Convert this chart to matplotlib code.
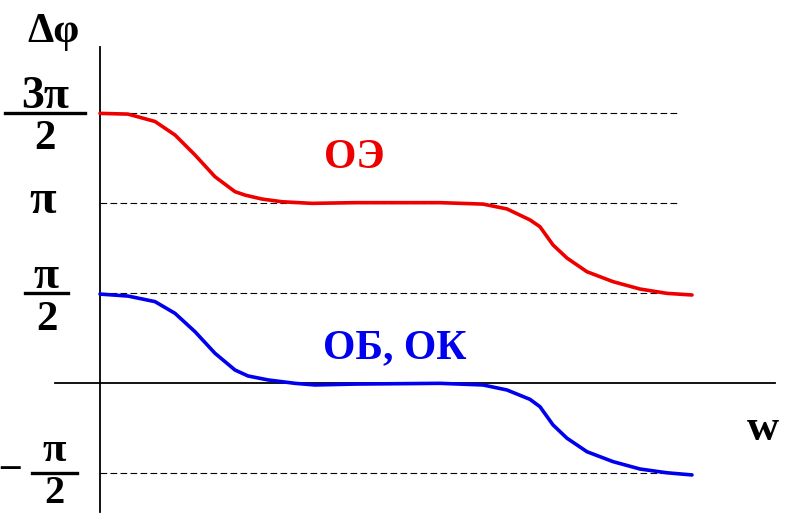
import numpy as np
import matplotlib
matplotlib.use("Agg")
import matplotlib.pyplot as plt

# frequency axis (arbitrary units) and phase values in multiples of pi
w_red = [0, 28, 55, 75, 95, 115, 135, 145, 162, 182, 212, 255, 340, 383, 407, 430, 440, 453, 467, 487, 513, 540, 567, 592]
phi_red = [1.498, 1.494, 1.453, 1.378, 1.267, 1.146, 1.063, 1.044, 1.022, 1.007, 0.998, 1.002, 1.002, 0.994,
           0.967, 0.906, 0.868, 0.767, 0.694, 0.618, 0.563, 0.522, 0.498, 0.489]
w_blue = [0, 28, 55, 75, 95, 115, 135, 148, 168, 195, 215, 255, 340, 383, 407, 430, 440, 453, 467, 487, 513, 540, 567, 592]
phi_blue = [0.494, 0.483, 0.452, 0.387, 0.285, 0.165, 0.072, 0.039, 0.017, -0.002, -0.011, -0.006, -0.002, -0.011,
            -0.039, -0.091, -0.132, -0.233, -0.307, -0.382, -0.437, -0.478, -0.499, -0.511]
ref_levels = [1.5, 1.0, 0.5, -0.5]
label_red = "ОЭ"
label_blue = "ОБ, ОК"
xlabel = "w"
ylabel = "Δφ"

PI = np.pi
fig = plt.figure(figsize=(7.92, 5.14), dpi=100)
ax = fig.add_axes([0, 0, 1, 1])
ax.set_xlim(-100, 692)
ax.set_ylim(-1.456 * PI / 2, 4.256 * PI / 2)
ax.axis("off")

font = dict(family="Liberation Serif", weight="bold")

# axes
ax.plot([0, 0], [-1.43 * PI / 2, 3.73 * PI / 2], color="black", lw=1.3)
ax.plot([-45, 675], [0, 0], color="black", lw=1.3)

# dashed reference lines
for lv in ref_levels:
    ax.plot([0, 578], [lv * PI, lv * PI], color="black", lw=0.8, ls=(0, (6, 3)))

ax.plot(w_red, np.array(phi_red) * PI, color="#ee0000", lw=2.6,
        solid_capstyle="round", solid_joinstyle="round")
ax.plot(w_blue, np.array(phi_blue) * PI, color="#0000ee", lw=2.6,
        solid_capstyle="round", solid_joinstyle="round")

ax.text(254, 1.194 * PI, label_red, color="#ee0000", fontsize=30, ha="center", va="baseline", **font)
ax.text(295, 0.139 * PI, label_blue, color="#0000ee", fontsize=30, ha="center", va="baseline", **font)
ax.text(663, -0.317 * PI, xlabel, color="black", fontsize=32, ha="center", va="baseline", **font)
ax.text(-47, 1.894 * PI, ylabel, color="black", fontsize=30, ha="center", va="baseline", **font)

# tick labels as fractions
def frac(xc, lv, num, half, num_base, den_base, size):
    y0 = lv * PI
    ax.plot([xc - half, xc + half], [y0, y0], color="black", lw=2.4)
    ax.text(xc, num_base * PI, num, fontsize=size, ha="center", va="baseline", **font)
    ax.text(xc, den_base * PI, "2", fontsize=size - 2, ha="center", va="baseline", **font)

frac(-55, 1.5, "3π", 40, 1.53, 1.30, 33)
ax.text(-57, 0.944 * PI, "π", fontsize=35, ha="center", va="baseline", **font)
frac(-53.5, 0.5, "π", 21.5, 0.527, 0.296, 33)
frac(-45.5, -0.5, "π", 22.5, -0.432, -0.665, 31)
ax.text(-90, -0.467 * PI, "–", fontsize=28, ha="center", va="center", **font)

fig.savefig("out.png", dpi=100)
